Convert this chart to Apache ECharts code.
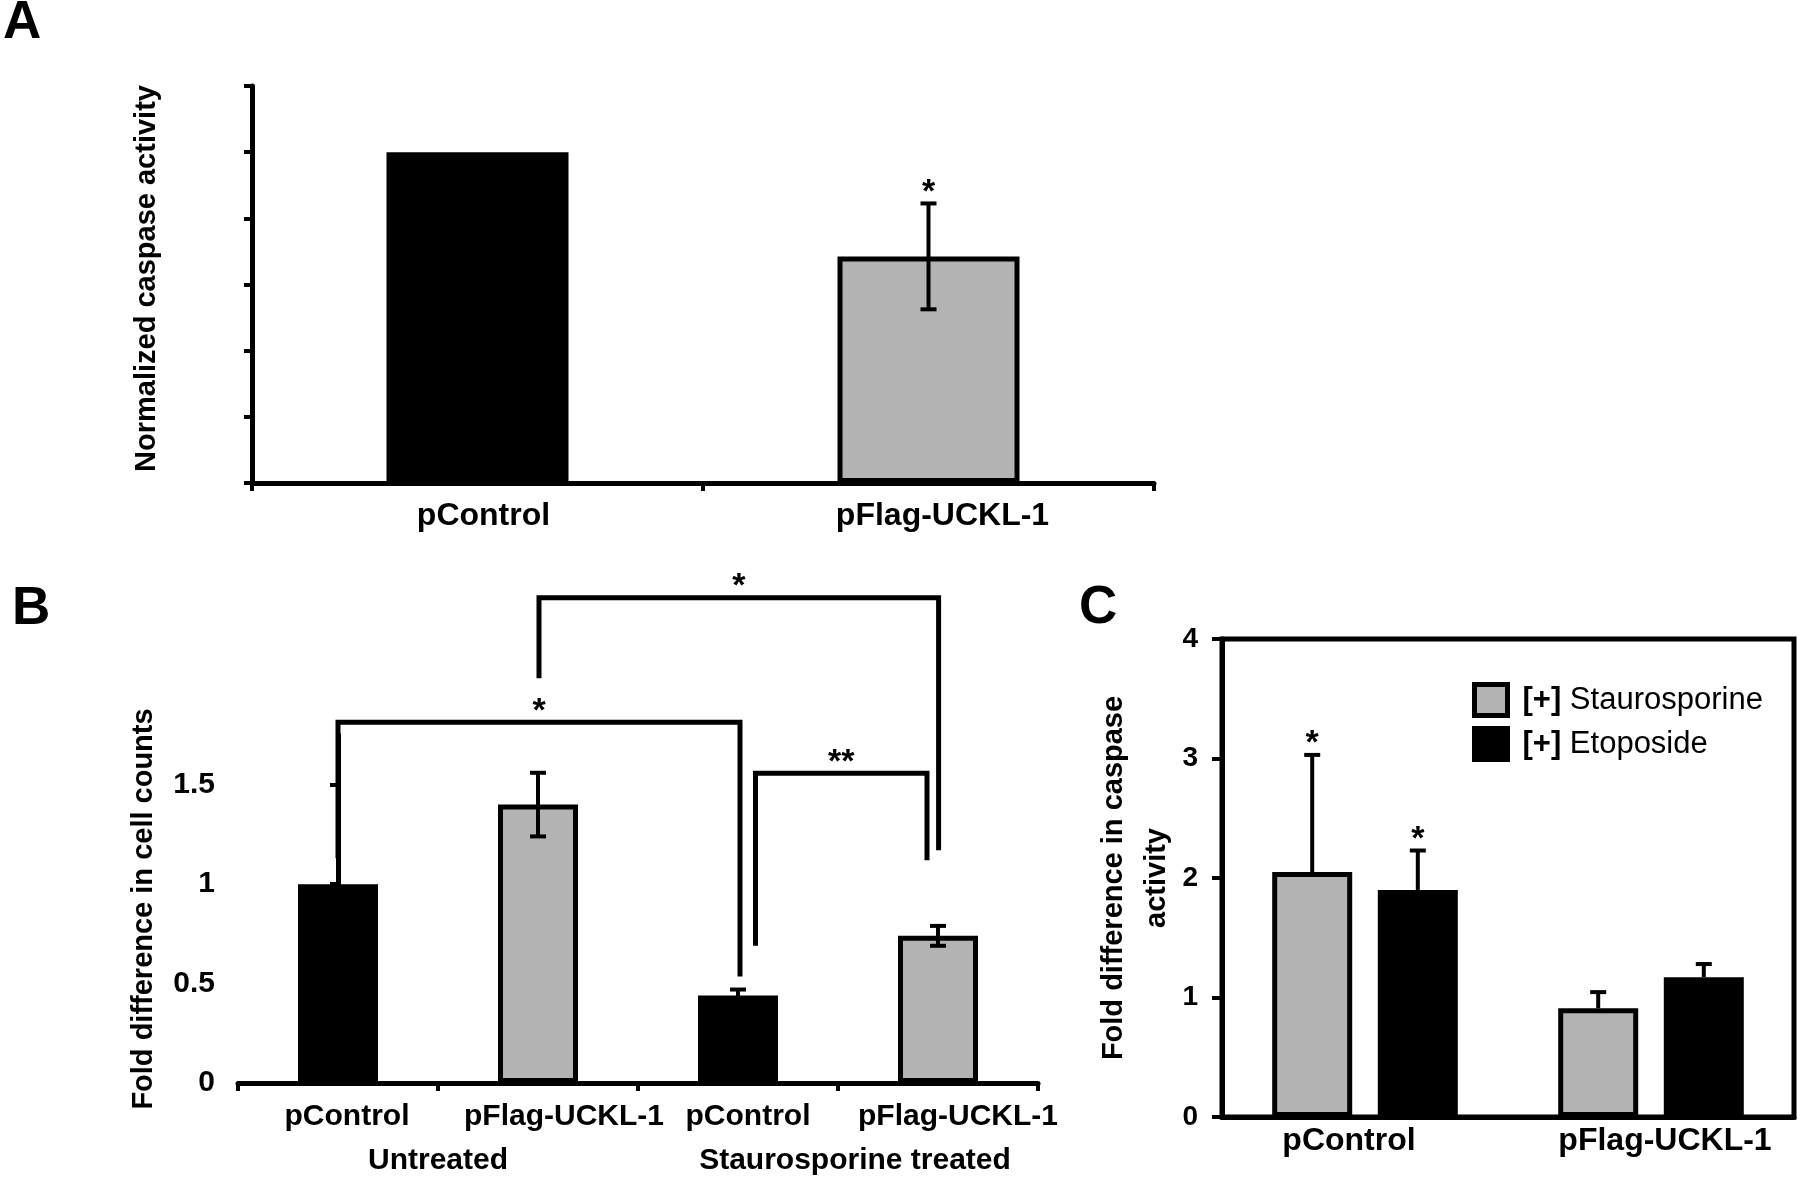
<!DOCTYPE html>
<html><head><meta charset="utf-8">
<script src="https://cdn.jsdelivr.net/npm/echarts@6/dist/echarts.min.js"></script>
<style>html,body{margin:0;padding:0;background:#fff}#c{width:1800px;height:1179px}</style>
</head><body><div id="c"></div><script>
// ---------- Panel A ----------
const aCategories = ['pControl', 'pFlag-UCKL-1'];
const aValues = [1.0, 0.685];
const aErrors = [0, 0.16];
const aStars = ['', '*'];

// ---------- Panel B ----------
const bCategories = ['pControl', 'pFlag-UCKL-1', 'pControl', 'pFlag-UCKL-1'];
const bGroups = ['Untreated', 'Staurosporine treated'];
const bValues = [1.0, 1.40, 0.44, 0.74];
const bErrors = [0, 0.16, 0.03, 0.05];
const bTickLabels = [0, 0.5, 1, 1.5];
// brackets: [x start, y start bottom, y top, x end, y end bottom] in category-index units
const bBrackets = [
  [0.0, 1.13, 1.814, 2.01, 0.535],
  [2.0875, 0.69, 1.558, 2.945, 1.12],
  [1.005, 2.035, 2.44, 3.003, 1.171]
];
const bBracketStars = ['*', '**', '*'];

// ---------- Panel C ----------
const cCategories = ['pControl', 'pFlag-UCKL-1'];
const cSeriesNames = ['[+] Staurosporine', '[+] Etoposide'];
const cStauro = [2.05, 0.91];
const cStauroErr = [0.98, 0.135];
const cStauroStars = ['*', ''];
const cEtop = [1.90, 1.17];
const cEtopErr = [0.33, 0.11];
const cEtopStars = ['*', ''];

// ---------- styling ----------
const FONT = '"Liberation Sans", Arial, sans-serif';
const GRAY = '#b3b3b3';
const BLACK = '#000000';
const aColors = [BLACK, GRAY];
const bColors = [BLACK, GRAY, BLACK, GRAY];

const chart = echarts.init(document.getElementById('c'), null, {renderer: 'canvas'});

function makeErr(vals, errs, stars, twoSided, offset) {
  return function (params, api) {
    const i = params.dataIndex;
    const cat = api.value(0);
    const e = errs[i];
    const base = api.coord([cat, vals[i]]);
    const top = api.coord([cat, vals[i] + e]);
    const bot = api.coord([cat, twoSided ? vals[i] - e : vals[i]]);
    const x = base[0] + offset;
    const cw = 8;
    const st = {stroke: BLACK, lineWidth: 4};
    const ch = [];
    if (e > 0) {
      ch.push({type: 'line', shape: {x1: x, y1: top[1], x2: x, y2: bot[1]}, style: st});
      ch.push({type: 'line', shape: {x1: x - cw, y1: top[1], x2: x + cw, y2: top[1]}, style: st});
      if (twoSided) ch.push({type: 'line', shape: {x1: x - cw, y1: bot[1], x2: x + cw, y2: bot[1]}, style: st});
    }
    if (stars[i]) {
      const sy = e > 0 ? top[1] : base[1];
      ch.push({type: 'text', x: x, y: sy - 11, style: {text: stars[i], fill: BLACK, font: 'bold 34px ' + FONT, align: 'center', verticalAlign: 'middle'}});
    }
    return {type: 'group', children: ch};
  };
}

function bracketRender(params, api) {
  const i = params.dataIndex;
  const b = bBrackets[i];
  const p1 = api.coord([b[0], b[1]]);
  const p2 = api.coord([b[0], b[2]]);
  const p3 = api.coord([b[3], b[2]]);
  const p4 = api.coord([b[3], b[4]]);
  return {type: 'group', children: [
    {type: 'polyline', shape: {points: [p1, p2, p3, p4]}, style: {stroke: BLACK, lineWidth: 5, fill: null, lineJoin: 'miter'}},
    {type: 'text', x: (p2[0] + p3[0]) / 2, y: p2[1] - 11, style: {text: bBracketStars[i], fill: BLACK, font: 'bold 34px ' + FONT, align: 'center', verticalAlign: 'middle'}}
  ]};
}

const axisLine = {show: true, lineStyle: {color: BLACK, width: 5}};
const tickOut = {show: true, length: 8, interval: 0, lineStyle: {color: BLACK, width: 4}};
const labelFont = {fontFamily: FONT, fontWeight: 'bold', fontSize: 30, color: BLACK};

function catData(names, shifts) {
  return names.map((n, i) => {
    const s = shifts[i];
    return {value: n, textStyle: {padding: s >= 0 ? [0, 0, 0, 2 * s] : [0, -2 * s, 0, 0]}};
  });
}

const option = {
  backgroundColor: '#ffffff',
  animation: false,
  graphic: [
    {type: 'text', left: 3, top: -3, style: {text: 'A', font: 'bold 53px ' + FONT, fill: BLACK}},
    {type: 'text', left: 12, top: 583, style: {text: 'B', font: 'bold 53px ' + FONT, fill: BLACK}},
    {type: 'text', left: 1079, top: 582, style: {text: 'C', font: 'bold 53px ' + FONT, fill: BLACK}}
  ],
  grid: [
    {left: 252, top: 86, width: 902, height: 397},
    {left: 238, top: 735, width: 800, height: 348},
    {left: 1222, top: 639, width: 572, height: 478, show: true, borderColor: BLACK, borderWidth: 5, backgroundColor: 'transparent'}
  ],
  legend: {
    orient: 'vertical', left: 1472, top: 682, padding: 0,
    itemWidth: 33, itemHeight: 31, itemGap: 8, selectedMode: false,
    data: cSeriesNames.map(n => ({name: n, icon: 'rect'})),
    itemStyle: {borderWidth: 5, borderColor: BLACK},
    formatter: n => n.replace('[+]', '{b|[+]}'),
    textStyle: {fontSize: 31, fontFamily: FONT, color: BLACK, padding: [0, 0, 0, 10],
      rich: {b: {fontSize: 31, fontWeight: 'bold', fontFamily: FONT, color: BLACK}}}
  },
  xAxis: [
    {gridIndex: 0, type: 'category', position: 'bottom', data: catData(aCategories, [6, 14]),
      axisLine: axisLine, axisTick: tickOut, axisLabel: Object.assign({margin: 17, interval: 0}, labelFont, {fontSize: 32})},
    {gridIndex: 1, type: 'category', position: 'bottom', data: catData(bCategories, [9, 26, 10, 20]),
      axisLine: axisLine, axisTick: tickOut, axisLabel: Object.assign({margin: 19, interval: 0, hideOverlap: false}, labelFont)},
    {gridIndex: 1, type: 'category', position: 'bottom', data: catData(bGroups, [0, 17]),
      axisLine: {show: false}, axisTick: {show: false}, axisLabel: Object.assign({margin: 63, interval: 0}, labelFont)},
    {gridIndex: 1, type: 'value', position: 'bottom', min: -0.5, max: 3.5, show: false},
    {gridIndex: 2, type: 'category', position: 'bottom', data: catData(cCategories, [-16, 14]),
      axisLine: axisLine, axisTick: {show: false}, axisLabel: Object.assign({margin: 8, interval: 0}, labelFont, {fontSize: 32})}
  ],
  yAxis: [
    {gridIndex: 0, type: 'value', min: 0, max: 1.2, interval: 0.2,
      name: 'Normalized caspase activity', nameLocation: 'middle', nameGap: 91, nameRotate: 90,
      nameTextStyle: {fontFamily: FONT, fontWeight: 'bold', fontSize: 29, color: BLACK, padding: [0, 0, 0, 12]},
      axisLine: axisLine, axisTick: tickOut, axisLabel: {show: false}, splitLine: {show: false}},
    {gridIndex: 1, type: 'value', min: 0, max: 1.75, interval: 0.25,
      name: 'Fold difference in cell counts', nameLocation: 'middle', nameGap: 80, nameRotate: 90,
      nameTextStyle: {fontFamily: FONT, fontWeight: 'bold', fontSize: 29, color: BLACK},
      axisLine: axisLine,
      axisTick: Object.assign({}, tickOut, {customValues: bTickLabels}),
      axisLabel: Object.assign({margin: 23, customValues: bTickLabels}, labelFont),
      splitLine: {show: false}},
    {gridIndex: 2, type: 'value', min: 0, max: 4, interval: 1,
      name: 'Fold difference in caspase\nactivity', nameLocation: 'middle', nameGap: 43, nameRotate: 90,
      nameTextStyle: {fontFamily: FONT, fontWeight: 'bold', fontSize: 29, color: BLACK, lineHeight: 43, align: 'center'},
      axisLine: axisLine, axisTick: {show: true, length: 10, lineStyle: {color: BLACK, width: 4}},
      axisLabel: Object.assign({margin: 24}, labelFont, {fontSize: 28}), splitLine: {show: false}}
  ],
  series: [
    {type: 'bar', xAxisIndex: 0, yAxisIndex: 0, barWidth: 182,
      data: aValues.map((v, i) => ({value: v, itemStyle: {color: aColors[i]}})),
      itemStyle: {borderColor: BLACK, borderWidth: 5}},
    {type: 'custom', xAxisIndex: 0, yAxisIndex: 0, z: 5,
      data: aValues.map((v, i) => [i, v]), renderItem: makeErr(aValues, aErrors, aStars, true, 0)},

    {type: 'bar', xAxisIndex: 1, yAxisIndex: 1, barWidth: 80,
      data: bValues.map((v, i) => ({value: v, itemStyle: {color: bColors[i]}})),
      itemStyle: {borderColor: BLACK, borderWidth: 5}},
    {type: 'custom', xAxisIndex: 1, yAxisIndex: 1, z: 5,
      data: bValues.map((v, i) => [i, v]), renderItem: makeErr(bValues, bErrors, ['', '', '', ''], true, 0)},
    {type: 'custom', xAxisIndex: 3, yAxisIndex: 1, z: 6, clip: false,
      data: bBrackets.map(b => [b[0], b[2]]), renderItem: bracketRender},

    {name: cSeriesNames[0], type: 'bar', xAxisIndex: 4, yAxisIndex: 2, barWidth: 80, barGap: '32%',
      data: cStauro, itemStyle: {color: GRAY, borderColor: BLACK, borderWidth: 5}},
    {name: cSeriesNames[1], type: 'bar', xAxisIndex: 4, yAxisIndex: 2, barWidth: 80, barGap: '32%',
      data: cEtop, itemStyle: {color: BLACK, borderColor: BLACK, borderWidth: 5}},
    {type: 'custom', xAxisIndex: 4, yAxisIndex: 2, z: 5,
      data: cStauro.map((v, i) => [i, v]), renderItem: makeErr(cStauro, cStauroErr, cStauroStars, false, -52.8)},
    {type: 'custom', xAxisIndex: 4, yAxisIndex: 2, z: 5,
      data: cEtop.map((v, i) => [i, v]), renderItem: makeErr(cEtop, cEtopErr, cEtopStars, false, 52.8)}
  ]
};
chart.setOption(option);
</script></body></html>
